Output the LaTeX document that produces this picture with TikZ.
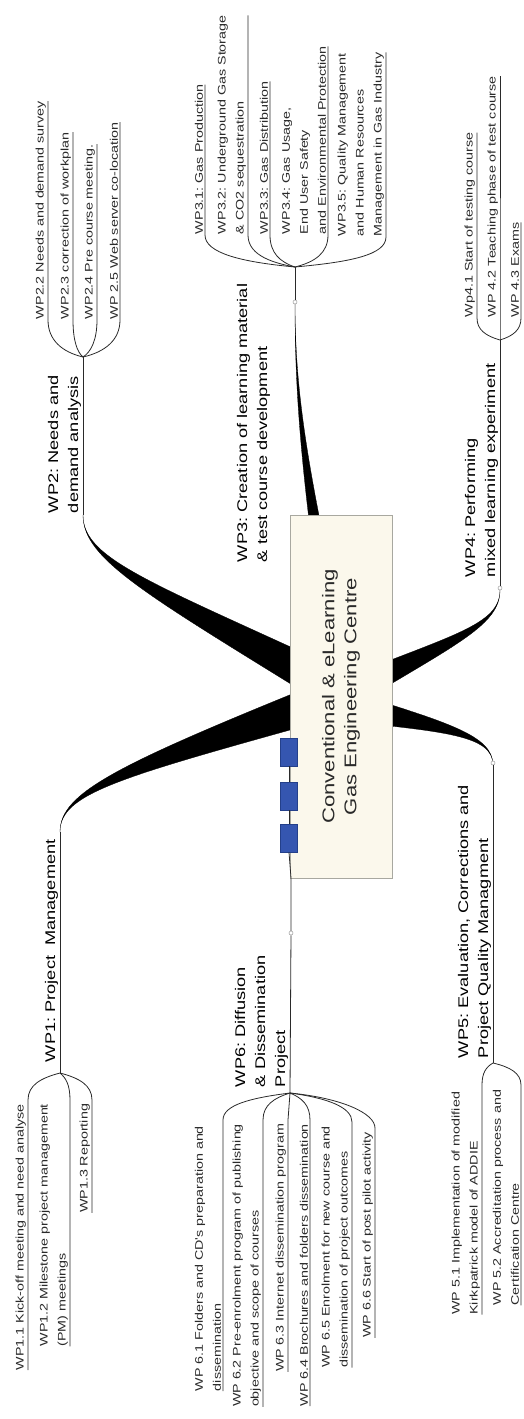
\documentclass[tikz,border=0pt]{standalone}
\usepackage{fontspec}
\newfontfamily\mapfont{Liberation Sans}[FakeStretch=1.3]
\definecolor{boxfill}{HTML}{FBF8EC}
\definecolor{boxline}{HTML}{A8A8A0}
\definecolor{sqblue}{HTML}{3556B0}
\definecolor{sqedge}{HTML}{24408A}
\definecolor{ink}{HTML}{2A2A2A}
\begin{document}
\frenchspacing
\begin{tikzpicture}[x=1pt,y=-1pt,
  item/.style={rotate=90, inner sep=0pt, outer sep=0pt, align=left, text=ink, font=\mapfont\fontsize{11}{18}\selectfont},
  mainlabel/.style={rotate=90, inner sep=0pt, outer sep=0pt, align=left, text=black, font=\mapfont\fontsize{14}{20}\selectfont},
  conn/.style={draw=ink, line width=0.8pt},
  wedgefill/.style={fill=black, draw=black, line width=0.3pt},
  hubdot/.style={circle, draw=black!40, fill=white, line width=0.5pt, inner sep=0pt, minimum size=4pt},
  bluesq/.style={rectangle, draw=sqedge, fill=sqblue, line width=0.6pt, minimum width=17pt, minimum height=28pt, inner sep=0pt},
  centrebox/.style={rectangle, rotate=90, draw=boxline, fill=boxfill, line width=0.8pt, minimum width=363pt, minimum height=102pt, align=center, font=\mapfont\fontsize{17}{22}\selectfont, text=ink}]
\useasboundingbox (0,0) rectangle (523,1419);

% ---------- coordinates of branch ends and forks
\coordinate (E1) at (60,832);  \coordinate (F1) at (60,1073);
\coordinate (E2) at (83,515);  \coordinate (F2) at (83,357);
\coordinate (F3) at (295,267);
\coordinate (F4) at (500,340);
\coordinate (F5) at (493,1063);
\coordinate (F6) at (290,1093);
\coordinate (B6) at (291,878);

% ---------- tapered main branches
\fill[wedgefill] (E2) .. controls (83,560) and (146.8,594.6) .. (335.5,711.6) -- (354.5,676.4) .. controls (153.2,582.8) and (83,560) .. (E2) -- cycle;
\fill[wedgefill] (E1) .. controls (60,792) and (122.1,776.8) .. (351.4,712.9) -- (338.6,675.1) .. controls (117.9,764.2) and (60,792) .. (E1) -- cycle;
\fill[wedgefill] (295,302) .. controls (295,400) and (308.9,479.3) .. (356.8,691.8) -- (333.2,696.2) .. controls (301.1,480.7) and (295,400) .. (295,302) -- cycle;
\fill[wedgefill] (500,590) .. controls (500,625) and (457.2,643.5) .. (351.7,707.4) -- (338.3,680.6) .. controls (452.8,634.5) and (500,625) .. (500,590) -- cycle;
\fill[wedgefill] (493,765) .. controls (493,735) and (444,731.9) .. (341.9,720.7) -- (348.1,691.3) .. controls (446,722.1) and (493,735) .. (493,765) -- cycle;

% ---------- centre
\node[centrebox] (ctr) at (341,696.5) {Conventional \& eLearning\\Gas Engineering Centre};
\node[bluesq] (sq1) at (289,752) {};
\node[bluesq] (sq2) at (289,796) {};
\node[bluesq] (sq3) at (289,838) {};

% ---------- hubs
\node[hubdot] (h3) at (295,302) {};
\node[hubdot] (h4) at (500,588) {};
\node[hubdot] (h5) at (493,763) {};
\node[hubdot] (h6) at (291,933) {};

% ---------- main branch thin lines
\draw[conn] (E2) -- (F2);
\draw[conn] (E1) -- (F1);
\draw[conn] (h3) -- (F3);
\draw[conn] (h4) -- (F4);
\draw[conn] (h5) -- (F5);
\draw[conn] (sq3.south) -- (B6) -- (h6) -- (F6);
\draw[conn] (sq1.south) -- (sq2.north);
\draw[conn] (sq2.south) -- (sq3.north);

% ---------- main labels
\node[mainlabel, anchor=south west] (L2) at (81,513) {WP2: Needs and\\demand analysis};
\node[mainlabel, anchor=south west] (L3) at (270,562) {WP3: Creation of learning material\\\& test course development};
\node[mainlabel, anchor=south west] (L4) at (498,577) {WP4: Performing\\mixed learning experiment};
\node[mainlabel, anchor=south west] (L5) at (491,1058) {WP5: Evaluation, Corrections and\\Project Quality Managment};
\node[mainlabel, anchor=south west] (L1) at (58,1062) {WP1: Project\ \ Management};
\node[mainlabel, anchor=south west] (L6) at (288,1087) {WP6: Diffusion\\\& Dissemination\\Project};

% ---------- WP2 items (upward)
\coordinate (s2a) at (48,320); \coordinate (s2b) at (73,320);
\coordinate (s2c) at (97,320); \coordinate (s2d) at (120,320);
\node[item, anchor=south west] (t2a) at (46,319) {WP2.2 Needs and demand survey};
\node[item, anchor=south west] (t2b) at (71,319) {WP2.3 correction of workplan};
\node[item, anchor=south west] (t2c) at (95,319) {WP2.4 Pre course meeting.};
\node[item, anchor=south west] (t2d) at (118,319) {WP 2.5 Web server co-location};
\draw[conn] (F2) .. controls +(-21,-5) and +(0,20) .. (s2a) -- (s2a |- t2a.south east);
\draw[conn] (F2) .. controls +(-6,-5) and +(0,20) .. (s2b) -- (s2b |- t2b.south east);
\draw[conn] (F2) .. controls +(8,-5) and +(0,20) .. (s2c) -- (s2c |- t2c.south east);
\draw[conn] (F2) .. controls +(22,-5) and +(0,20) .. (s2d) -- (s2d |- t2d.south east);

% ---------- WP3 items (upward)
\coordinate (s3a) at (205,235); \coordinate (s3b) at (248,235);
\coordinate (s3c) at (270,235); \coordinate (s3d) at (328,235);
\coordinate (s3e) at (386,237);
\node[item, anchor=south west] (t3a) at (203,234) {WP3.1: Gas Production};
\node[item, anchor=south west] (t3b) at (246,234) {WP3.2: Underground Gas Storage\\\& CO2 sequestration};
\node[item, anchor=south west] (t3c) at (268,234) {WP3.3: Gas Distribution};
\node[item, anchor=south west] (t3d) at (326,234) {WP3.4: Gas Usage,\\End User Safety\\and Environmental Protection};
\node[item, anchor=south west] (t3e) at (384,236) {WP3.5: Quality Management\\and Human Resources\\Management in Gas Industry};
\draw[conn] (F3) .. controls +(-54,-5) and +(0,18) .. (s3a) -- (s3a |- t3a.south east);
\draw[conn] (F3) .. controls +(-28,-5) and +(0,18) .. (s3b) -- (s3b |- t3b.south east);
\draw[conn] (F3) .. controls +(-15,-5) and +(0,18) .. (s3c) -- (s3c |- t3c.south east);
\draw[conn] (F3) .. controls +(20,-5) and +(0,18) .. (s3d) -- (s3d |- t3d.south east);
\draw[conn] (F3) .. controls +(55,-5) and +(0,18) .. (s3e) -- (s3e |- t3e.south east);

% ---------- WP4 items (upward)
\coordinate (s4a) at (477,318); \coordinate (s4b) at (500,318); \coordinate (s4c) at (521,318);
\node[item, anchor=south west] (t4a) at (475,317) {Wp4.1 Start of testing course};
\node[item, anchor=south west] (t4b) at (498,317) {WP 4.2 Teaching phase of test course};
\node[item, anchor=south west] (t4c) at (519,317) {WP 4.3 Exams};
\draw[conn] (F4) .. controls +(-14,-4) and +(0,12) .. (s4a) -- (s4a |- t4a.south east);
\draw[conn] (F4) -- (s4b) -- (s4b |- t4b.south east);
\draw[conn] (F4) .. controls +(13,-4) and +(0,12) .. (s4c) -- (s4c |- t4c.south east);

% ---------- WP1 items (downward)
\coordinate (s1a) at (28,1100); \coordinate (s1b) at (70,1100); \coordinate (s1c) at (92,1100);
\node[item, anchor=south east] (t1a) at (26,1104) {WP1.1 Kick-off meeting and need analyse};
\node[item, anchor=south east] (t1b) at (68,1104) {WP1.2 Milestone project management\\(PM) meetings};
\node[item, anchor=south east] (t1c) at (90,1104) {WP1.3 Reporting};
\draw[conn] (F1) .. controls +(-19,5) and +(0,-15) .. (s1a) -- (s1a |- t1a.south west);
\draw[conn] (F1) .. controls +(6,5) and +(0,-15) .. (s1b) -- (s1b |- t1b.south west);
\draw[conn] (F1) .. controls +(19,5) and +(0,-15) .. (s1c) -- (s1c |- t1c.south west);

% ---------- WP6 items (downward)
\coordinate (s6a) at (223,1120); \coordinate (s6b) at (263,1120); \coordinate (s6c) at (288,1120);
\coordinate (s6d) at (310,1120); \coordinate (s6e) at (352,1122); \coordinate (s6f) at (375,1128);
\node[item, anchor=south east] (t6a) at (221,1126) {WP 6.1 Folders and CD's preparation and\\dissemination};
\node[item, anchor=south east] (t6b) at (261,1124) {WP 6.2 Pre-enrolment program of publishing\\objective and scope of courses};
\node[item, anchor=south east] (t6c) at (286,1124) {WP 6.3 Internet dissemination program};
\node[item, anchor=south east] (t6d) at (308,1124) {WP 6.4 Brochures and folders dissemination};
\node[item, anchor=south east] (t6e) at (350,1126) {WP 6.5 Enrolment for new course and\\dissemination of project outcomes};
\node[item, anchor=south east] (t6f) at (373,1132) {WP 6.6 Start of post pilot activity};
\draw[conn] (F6) .. controls +(-40,5) and +(0,-15) .. (s6a) -- (s6a |- t6a.south west);
\draw[conn] (F6) .. controls +(-16,5) and +(0,-15) .. (s6b) -- (s6b |- t6b.south west);
\draw[conn] (F6) -- (s6c) -- (s6c |- t6c.south west);
\draw[conn] (F6) .. controls +(12,5) and +(0,-15) .. (s6d) -- (s6d |- t6d.south west);
\draw[conn] (F6) .. controls +(37,5) and +(0,-15) .. (s6e) -- (s6e |- t6e.south west);
\draw[conn] (F6) .. controls +(51,5) and +(0,-15) .. (s6f) -- (s6f |- t6f.south west);

% ---------- WP5 items (downward)
\coordinate (s5a) at (482,1085); \coordinate (s5b) at (521,1085);
\node[item, anchor=south east] (t5a) at (480,1092) {WP 5.1 Implementation of modified\\Kirkpatrick model of ADDIE};
\node[item, anchor=south east] (t5b) at (519,1090) {WP 5.2 Accreditation process and\\Certification Centre};
\draw[conn] (F5) .. controls +(-7,4) and +(0,-12) .. (s5a) -- (s5a |- t5a.south west);
\draw[conn] (F5) .. controls +(17,4) and +(0,-12) .. (s5b) -- (s5b |- t5b.south west);
\end{tikzpicture}
\end{document}
